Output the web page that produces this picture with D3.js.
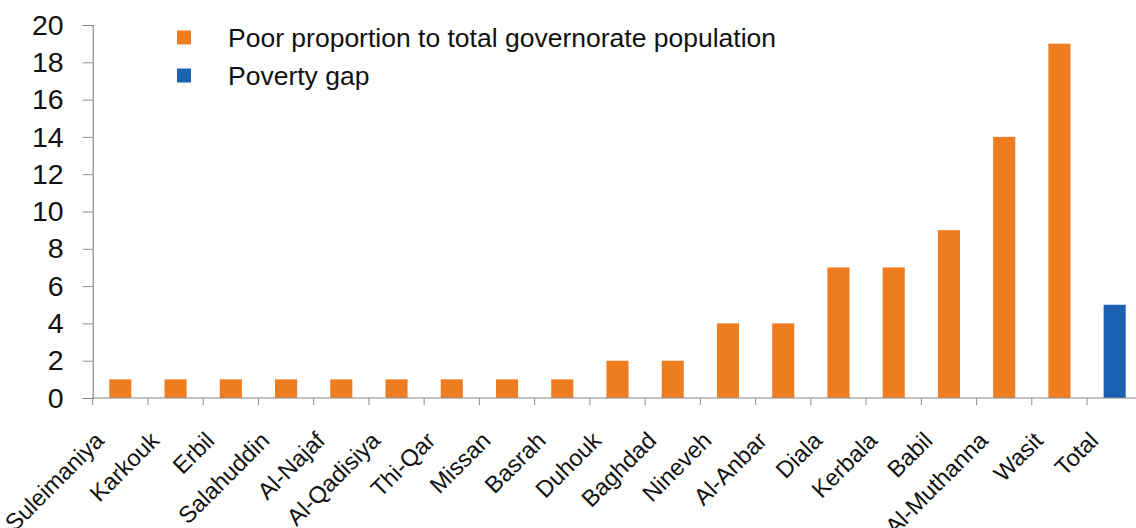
<!DOCTYPE html>
<html><head><meta charset="utf-8">
<script src="https://cdn.jsdelivr.net/npm/d3@7"></script>
<style>body{margin:0;background:#fff}svg{display:block;font-family:"Liberation Sans",Arial,sans-serif}</style>
</head><body>
<svg id="c" width="1136" height="528"></svg>
<script>
const categories = ["Suleimaniya","Karkouk","Erbil","Salahuddin","Al-Najaf","Al-Qadisiya","Thi-Qar","Missan","Basrah","Duhouk","Baghdad","Nineveh","Al-Anbar","Diala","Kerbala","Babil","Al-Muthanna","Wasit","Total"];
const values = [1,1,1,1,1,1,1,1,1,2,2,4,4,7,7,9,14,19,5];
const seriesOf = ["poor","poor","poor","poor","poor","poor","poor","poor","poor","poor","poor","poor","poor","poor","poor","poor","poor","poor","gap"];
const legendLabels = ["Poor proportion to total governorate population","Poverty gap"];
const yTicks = [0,2,4,6,8,10,12,14,16,18,20];

const colors = {poor:"#ee7d22", gap:"#1c62b2"};
const svg = d3.select("#c");
const x0 = 92.7, x1 = 1142.3, yTop = 25, yBot = 398;
const x = d3.scaleBand().domain(categories).range([x0, x1]).padding(0);
const y = d3.scaleLinear().domain([0,20]).range([yBot, yTop]);
const bw = x.bandwidth();

// bars
svg.append("g").selectAll("rect").data(categories).join("rect")
  .attr("x", d => x(d) + bw*0.3)
  .attr("width", bw*0.4)
  .attr("y", (d,i) => y(values[i]))
  .attr("height", (d,i) => y(0) - y(values[i]))
  .attr("fill", (d,i) => colors[seriesOf[i]]);

// y axis
const ya = svg.append("g").attr("transform", `translate(${x0},0)`)
  .call(d3.axisLeft(y).tickValues(yTicks).tickSize(10).tickPadding(19));
ya.select(".domain").attr("stroke","#8a8a8a").attr("stroke-width",1.2);
ya.selectAll(".tick line").attr("stroke","#8a8a8a");
ya.selectAll(".tick text").attr("font-size",28.5).attr("fill","#111").attr("font-family","Liberation Sans, Arial, sans-serif");

// x axis line & boundary ticks
svg.append("line").attr("x1",x0).attr("x2",x1).attr("y1",yBot).attr("y2",yBot).attr("stroke","#8a8a8a").attr("stroke-width",1.2);
svg.append("g").selectAll("line").data(categories).join("line")
  .attr("x1", d => x(d)).attr("x2", d => x(d))
  .attr("y1", yBot).attr("y2", yBot+7).attr("stroke","#8a8a8a");

// x labels
svg.append("g").selectAll("text").data(categories).join("text")
  .attr("transform", d => `translate(${x(d)+bw/2-15},${yBot+44}) rotate(-45)`)
  .attr("text-anchor","end")
  .attr("font-size",23.5).attr("fill","#111")
  .text(d => d);

// legend
const lg = svg.append("g");
legendLabels.forEach((t,i) => {
  const cy = 37.5 + i*38;
  lg.append("rect").attr("x",177).attr("y",cy-7).attr("width",14).attr("height",14)
    .attr("fill", i===0 ? colors.poor : colors.gap);
  lg.append("text").attr("x",228).attr("y",cy+9).attr("font-size",26.5).attr("fill","#111").text(t);
});
</script>
</body></html>
